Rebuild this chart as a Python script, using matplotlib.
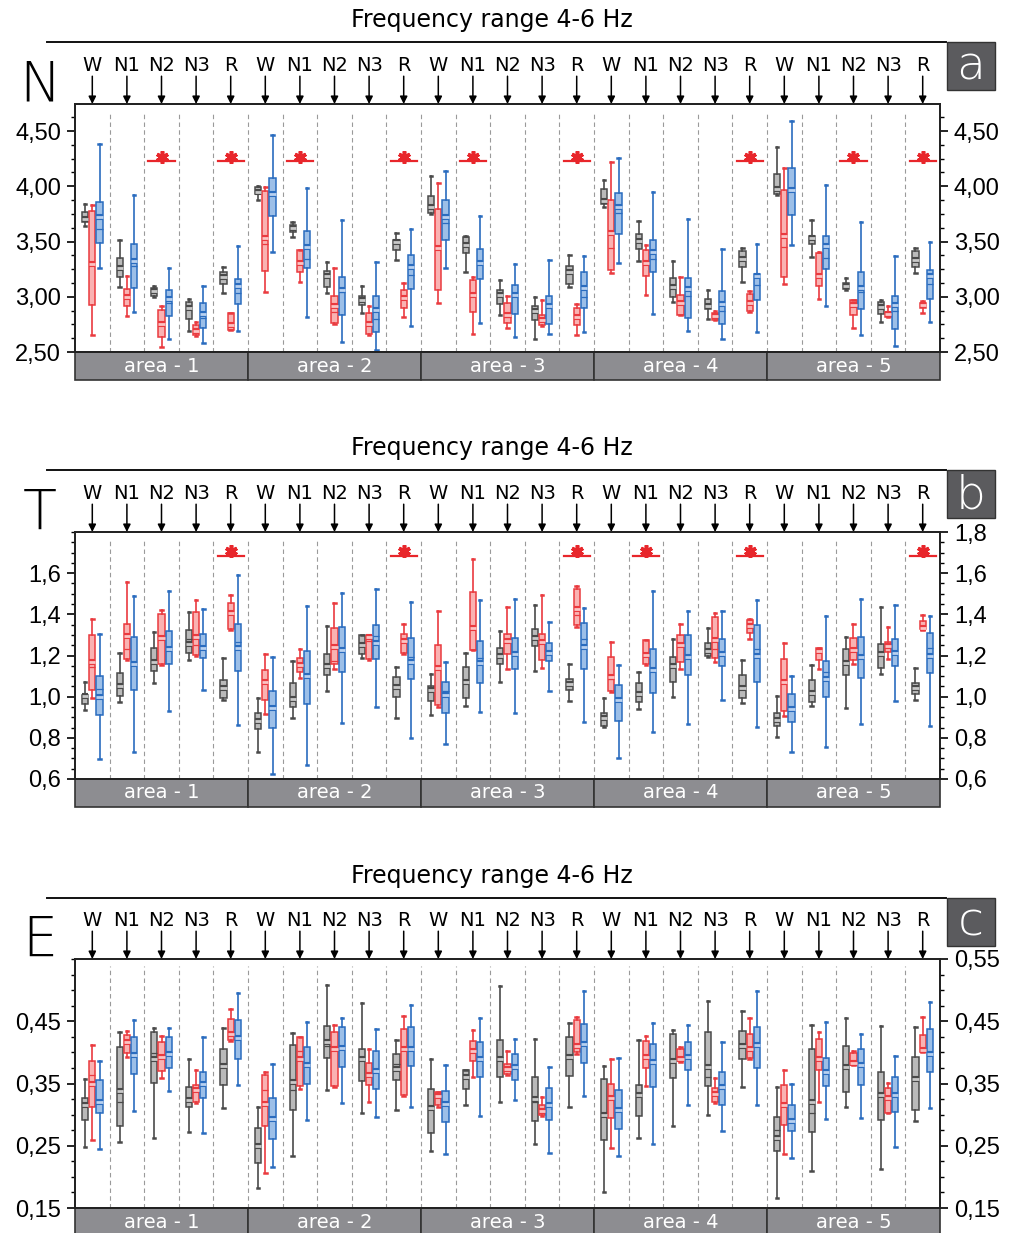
import numpy as np
import matplotlib
matplotlib.use('Agg')
import matplotlib.pyplot as plt
from matplotlib import patches, lines, patheffects
from matplotlib.ticker import MultipleLocator, FuncFormatter

plt.rcParams['font.family'] = ['Liberation Sans', 'DejaVu Sans']

stages = ['W', 'N1', 'N2', 'N3', 'R']
areas = ['area - 1', 'area - 2', 'area - 3', 'area - 4', 'area - 5']

# each row: (whisker low, q1, median, q3, whisker high, mean), one line per area
N_grey = [
    (3.64, 3.675, 3.70, 3.766, 3.84, 3.70), (3.085, 3.175, 3.26, 3.348, 3.515, 3.26), (3.00, 3.009, 3.048, 3.078, 3.094, 3.048), (2.688, 2.797, 2.894, 2.957, 2.979, 2.894), (3.033, 3.115, 3.182, 3.221, 3.266, 3.182),
    (3.88, 3.927, 3.945, 3.994, 4.00, 3.945), (3.539, 3.585, 3.621, 3.651, 3.676, 3.621), (3.033, 3.09, 3.185, 3.236, 3.318, 3.185), (2.851, 2.924, 2.972, 3.003, 3.10, 2.972), (3.333, 3.424, 3.50, 3.518, 3.579, 3.50),
    (3.745, 3.754, 3.812, 3.915, 4.091, 3.812), (3.221, 3.397, 3.469, 3.539, 3.554, 3.469), (2.836, 2.93, 3.018, 3.057, 3.151, 3.018), (2.615, 2.791, 2.869, 2.918, 2.994, 2.869), (3.085, 3.118, 3.221, 3.276, 3.379, 3.221),
    (3.809, 3.839, 3.869, 3.979, 4.054, 3.869), (3.327, 3.433, 3.509, 3.572, 3.685, 3.509), (2.954, 2.994, 3.085, 3.166, 3.324, 3.085), (2.797, 2.888, 2.918, 2.979, 3.06, 2.918), (3.13, 3.273, 3.342, 3.418, 3.439, 3.342),
    (3.92, 3.927, 3.979, 4.115, 4.357, 3.979), (3.363, 3.479, 3.533, 3.554, 3.691, 3.533), (3.06, 3.069, 3.10, 3.121, 3.166, 3.10), (2.776, 2.842, 2.903, 2.954, 2.97, 2.903), (3.212, 3.267, 3.333, 3.418, 3.442, 3.333),
]
N_red = [
    (2.654, 2.927, 3.297, 3.78, 3.83, 3.297), (2.827, 2.918, 2.997, 3.07, 3.19, 2.997), (2.548, 2.639, 2.757, 2.882, 2.912, 2.757), (2.645, 2.65, 2.688, 2.742, 2.772, 2.688), (2.697, 2.70, 2.745, 2.851, 2.857, 2.745),
    (3.039, 3.23, 3.478, 3.957, 3.994, 3.53), (3.136, 3.221, 3.303, 3.421, 3.424, 3.303), (2.751, 2.76, 2.863, 3.009, 3.257, 2.912), (2.651, 2.666, 2.757, 2.851, 2.918, 2.757), (2.818, 2.897, 2.985, 3.063, 3.121, 2.985),
    (2.948, 3.063, 3.445, 3.797, 4.033, 3.445), (2.666, 2.866, 3.015, 3.154, 3.175, 3.015), (2.721, 2.766, 2.82, 2.942, 3.009, 2.839), (2.736, 2.74, 2.788, 2.833, 2.97, 2.788), (2.651, 2.742, 2.821, 2.897, 2.933, 2.821),
    (3.212, 3.242, 3.445, 3.879, 4.221, 3.575), (3.015, 3.185, 3.306, 3.427, 3.473, 3.306), (2.833, 2.836, 2.942, 3.015, 3.175, 2.942), (2.79, 2.791, 2.824, 2.851, 2.873, 2.824), (2.86, 2.87, 2.942, 3.024, 3.051, 2.942),
    (3.115, 3.182, 3.454, 3.963, 4.166, 3.554), (2.979, 3.094, 3.191, 3.397, 3.403, 3.191), (2.715, 2.836, 2.924, 2.97, 2.97, 2.924), (2.82, 2.821, 2.842, 2.866, 2.918, 2.842), (2.851, 2.894, 2.924, 2.948, 2.964, 2.924),
]
N_blue = [
    (3.257, 3.49, 3.615, 3.86, 4.379, 3.721), (2.866, 3.078, 3.28, 3.475, 3.924, 3.321), (2.615, 2.824, 2.948, 3.057, 3.257, 2.979), (2.582, 2.715, 2.812, 2.942, 3.097, 2.845), (2.69, 2.93, 3.033, 3.16, 3.457, 3.10),
    (3.403, 3.73, 3.93, 4.072, 4.463, 3.93), (2.818, 3.26, 3.342, 3.597, 3.982, 3.448), (2.591, 2.833, 3.039, 3.179, 3.691, 3.063), (2.515, 2.685, 2.797, 3.009, 3.318, 2.879), (2.736, 3.069, 3.20, 3.379, 3.615, 3.266),
    (3.26, 3.518, 3.67, 3.879, 4.142, 3.721), (2.76, 3.16, 3.306, 3.433, 3.73, 3.306), (2.639, 2.845, 3.015, 3.106, 3.297, 3.015), (2.66, 2.757, 2.912, 3.003, 3.333, 2.912), (2.682, 2.90, 2.994, 3.224, 3.367, 3.079),
    (3.303, 3.572, 3.76, 3.936, 4.26, 3.812), (2.848, 3.227, 3.342, 3.518, 3.948, 3.403), (2.691, 2.806, 3.009, 3.172, 3.70, 3.07), (2.615, 2.757, 2.873, 3.048, 3.433, 2.933), (2.682, 2.973, 3.106, 3.203, 3.479, 3.188),
    (3.469, 3.742, 3.963, 4.169, 4.594, 3.963), (2.912, 3.251, 3.351, 3.554, 4.009, 3.463), (2.654, 2.888, 3.039, 3.221, 3.676, 3.079), (2.554, 2.706, 2.873, 3.006, 3.373, 2.924), (2.773, 2.979, 3.115, 3.242, 3.50, 3.191),
]

T_grey = [
    (0.936, 0.964, 1.001, 1.01, 1.07, 1.001), (0.972, 1.005, 1.053, 1.117, 1.211, 1.053), (1.067, 1.127, 1.167, 1.237, 1.314, 1.167), (1.18, 1.213, 1.281, 1.322, 1.411, 1.257), (0.985, 0.993, 1.04, 1.083, 1.188, 1.04),
    (0.732, 0.842, 0.883, 0.923, 0.992, 0.883), (0.896, 0.948, 0.988, 1.067, 1.171, 0.988), (1.029, 1.106, 1.151, 1.208, 1.343, 1.151), (1.188, 1.208, 1.249, 1.298, 1.301, 1.249), (0.896, 0.997, 1.049, 1.097, 1.143, 1.049),
    (0.91, 0.98, 1.032, 1.053, 1.11, 1.032), (0.956, 0.992, 1.073, 1.146, 1.213, 1.073), (1.07, 1.159, 1.197, 1.237, 1.32, 1.197), (1.125, 1.245, 1.284, 1.33, 1.447, 1.284), (0.98, 1.034, 1.063, 1.086, 1.159, 1.063),
    (0.855, 0.858, 0.896, 0.92, 0.992, 0.896), (0.94, 0.972, 1.013, 1.067, 1.122, 1.013), (0.997, 1.07, 1.151, 1.195, 1.281, 1.151), (1.195, 1.20, 1.224, 1.26, 1.333, 1.224), (0.967, 0.992, 1.04, 1.107, 1.18, 1.04),
    (0.806, 0.858, 0.888, 0.92, 1.001, 0.888), (0.953, 0.975, 1.016, 1.081, 1.156, 1.016), (0.945, 1.106, 1.164, 1.232, 1.289, 1.164), (1.11, 1.138, 1.208, 1.257, 1.436, 1.208), (0.985, 1.013, 1.04, 1.067, 1.14, 1.04),
]
T_red = [
    (0.993, 1.032, 1.143, 1.301, 1.379, 1.167), (1.18, 1.184, 1.232, 1.354, 1.558, 1.297), (1.155, 1.159, 1.284, 1.403, 1.423, 1.284), (1.198, 1.203, 1.249, 1.411, 1.47, 1.289), (1.325, 1.33, 1.406, 1.457, 1.496, 1.406),
    (0.915, 0.984, 1.07, 1.13, 1.208, 1.07), (1.091, 1.119, 1.154, 1.188, 1.232, 1.154), (1.135, 1.159, 1.175, 1.333, 1.457, 1.24), (1.18, 1.184, 1.27, 1.294, 1.294, 1.289), (1.208, 1.213, 1.27, 1.306, 1.354, 1.27),
    (0.951, 0.961, 1.138, 1.249, 1.416, 1.138), (1.225, 1.229, 1.229, 1.509, 1.668, 1.335), (1.135, 1.208, 1.27, 1.306, 1.436, 1.27), (1.14, 1.179, 1.265, 1.306, 1.496, 1.265), (1.34, 1.346, 1.395, 1.522, 1.536, 1.424),
    (1.025, 1.029, 1.086, 1.192, 1.265, 1.097), (1.155, 1.159, 1.203, 1.273, 1.276, 1.203), (1.135, 1.167, 1.249, 1.301, 1.351, 1.249), (1.167, 1.188, 1.232, 1.387, 1.408, 1.273), (1.278, 1.31, 1.343, 1.371, 1.375, 1.343),
    (0.907, 0.932, 1.073, 1.184, 1.26, 1.073), (1.132, 1.179, 1.224, 1.236, 1.236, 1.224), (1.159, 1.179, 1.229, 1.286, 1.351, 1.229), (1.184, 1.219, 1.245, 1.265, 1.338, 1.245), (1.323, 1.327, 1.333, 1.367, 1.398, 1.333),
]
T_blue = [
    (0.696, 0.91, 1.037, 1.102, 1.306, 1.0), (0.732, 1.032, 1.159, 1.288, 1.489, 1.159), (0.932, 1.159, 1.231, 1.319, 1.514, 1.231), (1.032, 1.187, 1.236, 1.306, 1.428, 1.236), (0.862, 1.127, 1.265, 1.351, 1.593, 1.236),
    (0.626, 0.85, 0.943, 1.029, 1.195, 0.943), (0.667, 0.964, 1.102, 1.223, 1.439, 1.102), (0.87, 1.122, 1.227, 1.338, 1.506, 1.227), (0.948, 1.184, 1.293, 1.346, 1.525, 1.26), (0.798, 1.086, 1.195, 1.286, 1.46, 1.167),
    (0.772, 0.92, 1.029, 1.073, 1.167, 1.008), (0.927, 1.067, 1.188, 1.271, 1.468, 1.162), (0.92, 1.135, 1.208, 1.286, 1.476, 1.208), (1.029, 1.171, 1.211, 1.262, 1.362, 1.211), (0.879, 1.132, 1.278, 1.358, 1.432, 1.24),
    (0.704, 0.883, 0.984, 1.057, 1.156, 0.984), (0.826, 1.018, 1.13, 1.232, 1.514, 1.13), (0.867, 1.106, 1.192, 1.301, 1.416, 1.192), (0.985, 1.151, 1.206, 1.278, 1.416, 1.206), (0.855, 1.073, 1.232, 1.349, 1.471, 1.197),
    (0.732, 0.878, 0.94, 1.013, 1.099, 0.94), (0.756, 1.0, 1.119, 1.171, 1.392, 1.086), (0.867, 1.091, 1.192, 1.289, 1.473, 1.192), (0.98, 1.151, 1.213, 1.281, 1.447, 1.213), (0.858, 1.115, 1.236, 1.31, 1.392, 1.197),
]

E_grey = [
    (0.248, 0.291, 0.315, 0.327, 0.358, 0.315), (0.256, 0.281, 0.321, 0.408, 0.433, 0.338), (0.263, 0.351, 0.399, 0.433, 0.439, 0.389), (0.272, 0.312, 0.323, 0.345, 0.39, 0.323), (0.31, 0.348, 0.378, 0.405, 0.439, 0.378),
    (0.182, 0.222, 0.25, 0.278, 0.313, 0.25), (0.233, 0.307, 0.339, 0.412, 0.431, 0.353), (0.34, 0.391, 0.41, 0.442, 0.509, 0.417), (0.303, 0.354, 0.389, 0.406, 0.479, 0.389), (0.308, 0.356, 0.381, 0.398, 0.42, 0.374),
    (0.242, 0.27, 0.313, 0.341, 0.389, 0.31), (0.315, 0.341, 0.361, 0.371, 0.371, 0.361), (0.32, 0.361, 0.393, 0.42, 0.507, 0.389), (0.253, 0.29, 0.32, 0.36, 0.421, 0.325), (0.312, 0.362, 0.392, 0.424, 0.447, 0.392),
    (0.175, 0.26, 0.299, 0.358, 0.378, 0.299), (0.262, 0.297, 0.332, 0.347, 0.42, 0.332), (0.282, 0.359, 0.386, 0.43, 0.436, 0.386), (0.30, 0.346, 0.36, 0.433, 0.483, 0.376), (0.344, 0.389, 0.411, 0.435, 0.466, 0.411),
    (0.166, 0.242, 0.276, 0.296, 0.344, 0.262), (0.209, 0.272, 0.303, 0.406, 0.444, 0.32), (0.312, 0.337, 0.376, 0.41, 0.456, 0.376), (0.213, 0.291, 0.331, 0.369, 0.442, 0.331), (0.289, 0.308, 0.357, 0.393, 0.441, 0.357),
]
E_red = [
    (0.259, 0.312, 0.363, 0.386, 0.412, 0.349), (0.393, 0.399, 0.417, 0.428, 0.434, 0.417), (0.359, 0.37, 0.393, 0.416, 0.426, 0.393), (0.318, 0.321, 0.339, 0.347, 0.371, 0.339), (0.418, 0.42, 0.429, 0.454, 0.469, 0.429),
    (0.207, 0.282, 0.34, 0.364, 0.369, 0.317), (0.341, 0.346, 0.403, 0.424, 0.425, 0.39), (0.344, 0.346, 0.405, 0.433, 0.444, 0.405), (0.32, 0.347, 0.363, 0.383, 0.406, 0.363), (0.33, 0.332, 0.406, 0.437, 0.459, 0.406),
    (0.313, 0.315, 0.33, 0.337, 0.337, 0.33), (0.36, 0.386, 0.403, 0.418, 0.436, 0.403), (0.364, 0.366, 0.374, 0.382, 0.403, 0.374), (0.298, 0.30, 0.306, 0.315, 0.328, 0.306), (0.398, 0.40, 0.41, 0.452, 0.457, 0.41),
    (0.247, 0.294, 0.326, 0.349, 0.389, 0.326), (0.346, 0.375, 0.393, 0.419, 0.427, 0.393), (0.385, 0.387, 0.39, 0.405, 0.409, 0.39), (0.318, 0.32, 0.333, 0.343, 0.359, 0.333), (0.389, 0.391, 0.406, 0.429, 0.456, 0.406),
    (0.237, 0.284, 0.315, 0.347, 0.371, 0.315), (0.32, 0.371, 0.39, 0.421, 0.433, 0.39), (0.379, 0.381, 0.383, 0.399, 0.402, 0.383), (0.303, 0.303, 0.326, 0.343, 0.351, 0.326), (0.40, 0.401, 0.404, 0.428, 0.457, 0.404),
]
E_blue = [
    (0.245, 0.302, 0.321, 0.355, 0.386, 0.321), (0.306, 0.366, 0.396, 0.424, 0.452, 0.396), (0.338, 0.375, 0.401, 0.425, 0.439, 0.398), (0.271, 0.326, 0.35, 0.368, 0.424, 0.35), (0.347, 0.389, 0.423, 0.452, 0.495, 0.423),
    (0.216, 0.261, 0.293, 0.327, 0.381, 0.293), (0.292, 0.349, 0.379, 0.409, 0.449, 0.379), (0.319, 0.377, 0.407, 0.44, 0.456, 0.407), (0.296, 0.341, 0.37, 0.403, 0.438, 0.37), (0.312, 0.378, 0.406, 0.441, 0.476, 0.406),
    (0.237, 0.288, 0.317, 0.338, 0.38, 0.317), (0.298, 0.36, 0.39, 0.416, 0.456, 0.39), (0.323, 0.356, 0.377, 0.398, 0.421, 0.377), (0.239, 0.291, 0.316, 0.343, 0.376, 0.316), (0.33, 0.383, 0.414, 0.445, 0.499, 0.414),
    (0.234, 0.277, 0.308, 0.339, 0.391, 0.308), (0.253, 0.345, 0.385, 0.414, 0.447, 0.385), (0.315, 0.371, 0.393, 0.416, 0.444, 0.393), (0.273, 0.316, 0.344, 0.368, 0.417, 0.344), (0.316, 0.375, 0.412, 0.44, 0.499, 0.412),
    (0.23, 0.273, 0.289, 0.315, 0.349, 0.289), (0.293, 0.346, 0.368, 0.391, 0.448, 0.368), (0.295, 0.348, 0.379, 0.406, 0.43, 0.379), (0.248, 0.304, 0.331, 0.361, 0.394, 0.331), (0.31, 0.369, 0.398, 0.438, 0.481, 0.398),
]

# significant differences: (area index, stage index)
sig_N = [(0, 2), (0, 4), (1, 1), (1, 4), (2, 1), (2, 4), (3, 4), (4, 2), (4, 4)]
sig_T = [(0, 4), (1, 4), (2, 4), (3, 1), (3, 4), (4, 4)]
sig_E = []

W, H = 1010, 1233
fig = plt.figure(figsize=(W / 100, H / 100), dpi=100)

series = [
    ('#8c8c8c99', '#c9c9c9', '#4a4a4a', -0.21),
    ('#f7808099', '#fbc4c4', '#ea3a3f', 0.0),
    ('#5b95d999', '#b8d1f0', '#2a6cbf', 0.21),
]


def panel(letter, big, data, ylim, minor, left_ticks, right_ticks, dec, sig, sig_y, star_dy, top, bot, line_y):
    ax = fig.add_axes([75 / W, 1 - bot / H, 865 / W, (bot - top) / H])
    pos = np.arange(25)
    for rows, (face, mface, edge, off) in zip(data, series):
        stats = [dict(whislo=r[0], q1=r[1], med=r[2], q3=r[3], whishi=r[4], mean=r[5]) for r in rows]
        ax.bxp(stats, positions=pos + off, widths=0.18, capwidths=0.07, patch_artist=True,
               showmeans=True, meanline=True, showfliers=False, manage_ticks=False,
               boxprops=dict(facecolor=face, edgecolor=edge, lw=1.1),
               medianprops=dict(color=edge, lw=0.9),
               meanprops=dict(color=mface, lw=2.0, ls='-',
                              path_effects=[patheffects.withStroke(linewidth=4.4, foreground=edge)]),
               whiskerprops=dict(color=edge, lw=1.2), capprops=dict(color=edge, lw=1.8))

    for k in range(1, 25):
        ax.axvline(k - 0.5, ymin=0, ymax=0.97, color='#9a9a9a', lw=0.8, ls=(0, (4, 3)), zorder=0)

    for a, s in sig:
        x = a * 5 + s
        ax.plot([x - 0.38, x + 0.38], [sig_y, sig_y], color='#e8262b', lw=1.6)
        ax.plot(x, sig_y + star_dy, marker=(6, 2, 0), ms=9, mew=2.6, color='#e8262b')

    ax.set_xlim(-0.5, 24.5)
    ax.set_ylim(*ylim)
    ax.set_xticks([])
    fmt = FuncFormatter(lambda v, p: f'{v:.{dec}f}'.replace('.', ','))
    ax2 = ax.twinx()
    ax2.set_ylim(*ylim)
    for a_, ticks in ((ax, left_ticks), (ax2, right_ticks)):
        a_.set_yticks(ticks)
        a_.yaxis.set_major_formatter(fmt)
        a_.yaxis.set_minor_locator(MultipleLocator(minor))
        a_.tick_params(axis='y', which='major', direction='out', length=6, width=1.2, labelsize=17, pad=4)
        a_.tick_params(axis='y', which='minor', direction='out', length=3, width=1)
        for sp in a_.spines.values():
            sp.set_linewidth(1.3)
            sp.set_color('#222222')

    # area bar
    bar_h = 28 / (bot - top)
    for j, name in enumerate(areas):
        ax.add_patch(patches.Rectangle((j * 5 - 0.5, -bar_h), 5, bar_h, transform=ax.get_xaxis_transform(),
                                       facecolor='#8d8d91', edgecolor='#333333', lw=1.2, clip_on=False))
        ax.text(j * 5 + 2, -bar_h / 2, name, transform=ax.get_xaxis_transform(), ha='center', va='center',
                color='white', fontsize=14, family=['DejaVu Sans'])

    # stage labels and arrows
    for j in range(5):
        for i, st in enumerate(stages):
            x = j * 5 + i
            ax.annotate(st, xy=(x, 1), xycoords=('data', 'axes fraction'), xytext=(0, 28),
                        textcoords='offset points', ha='center', va='center', fontsize=14,
                        family=['DejaVu Sans'], annotation_clip=False)
            ax.annotate('', xy=(x, 1), xycoords=('data', 'axes fraction'), xytext=(0, 20),
                        textcoords='offset points', annotation_clip=False,
                        arrowprops=dict(arrowstyle='-|>', color='k', lw=1.1, mutation_scale=11,
                                        shrinkA=0, shrinkB=0))

    # title, rule, letter box, big label
    fig.text(492 / W, 1 - (line_y - 22) / H, 'Frequency range 4-6 Hz', ha='center', va='center',
             fontsize=17, family=['DejaVu Sans'])
    fig.add_artist(lines.Line2D([47 / W, 946 / W], [1 - line_y / H] * 2, color='#111111', lw=1.4))
    fig.add_artist(patches.Rectangle((947 / W, 1 - (line_y + 48) / H), 48 / W, 48 / H,
                                     facecolor='#5b5b5e', edgecolor='#333333', lw=1))
    fig.text(971 / W, 1 - (line_y + 25) / H, letter, ha='center', va='center', color='white',
             fontsize=34, family=['DejaVu Sans'], weight='light')
    fig.text(40 / W, 1 - (top - 18) / H, big, ha='center', va='center', fontsize=40,
             family=['DejaVu Sans'], weight='light')
    return ax


panel('a', 'N', [N_grey, N_red, N_blue], (2.5, 4.745), 0.125,
      [2.5, 3.0, 3.5, 4.0, 4.5], [2.5, 3.0, 3.5, 4.0, 4.5], 2, sig_N, 4.227, 0.04, 104, 352, 42)
panel('b', 'T', [T_grey, T_red, T_blue], (0.6, 1.8), 0.05,
      [0.6, 0.8, 1.0, 1.2, 1.4, 1.6], [0.6, 0.8, 1.0, 1.2, 1.4, 1.6, 1.8], 1, sig_T, 1.683, 0.025, 532, 779, 470)
panel('c', 'E', [E_grey, E_red, E_blue], (0.15, 0.55), 0.025,
      [0.15, 0.25, 0.35, 0.45], [0.15, 0.25, 0.35, 0.45, 0.55], 2, sig_E, 0.0, 0.0, 959, 1208, 898)

fig.savefig('out.png', dpi=100)
